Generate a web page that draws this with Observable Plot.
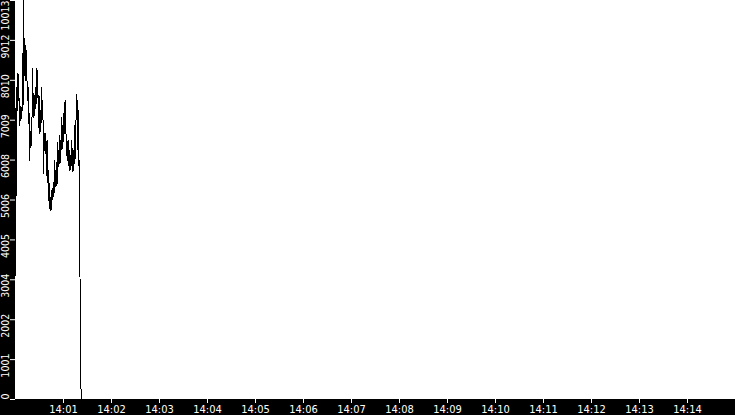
<!DOCTYPE html>
<html>
<head>
<meta charset="utf-8">
<script src="https://cdn.jsdelivr.net/npm/d3@7"></script>
<script src="https://cdn.jsdelivr.net/npm/@observablehq/plot@0.6"></script>
<style>
html, body { margin: 0; padding: 0; background: #000; }
#chart svg { display: block; }
</style>
</head>
<body>
<div id="chart"></div>
<script>
// Time window (UTC clock times)
const startTime = Date.UTC(2020, 0, 1, 14, 0, 0);
const endTime = Date.UTC(2020, 0, 1, 14, 15, 0);
const sampleStepMs = 625; // one reading every 0.625 s

// Readings from 14:00:00 onward
const values = [
  3112, 7303, 5119, 7830, 7252, 8181, 7503, 7579, 6876, 7328,
  7002, 7353, 7052, 7252, 8683, 7252, 10013, 8081, 9059, 8181,
  8884, 8005, 8758, 8005, 7503, 7880, 6926, 7252, 5998, 6751,
  6324, 6625, 6374, 7077, 8306, 7077, 7679, 7077, 7629, 7252,
  7830, 7378, 8306, 7579, 8256, 7579, 6826, 7629, 7002, 6675,
  7252, 6876, 7830, 7002, 7503, 7052, 5671, 6625, 6249, 6700,
  6173, 6500, 6249, 5621, 6500, 5421, 5747, 4994, 5421, 4793,
  5069, 4743, 5245, 4994, 5295, 5069, 5446, 5119, 5998, 5320,
  5747, 5496, 5948, 5370, 6449, 5822, 6249, 5872, 6625, 5922,
  6249, 6500, 7077, 6249, 6876, 6424, 7177, 6625, 7453, 6675,
  7503, 6675, 6123, 6500, 6249, 5998, 6500, 5872, 6249, 5747,
  6123, 5872, 6500, 5872, 6299, 5697, 6249, 5872, 6876, 5998,
  6625, 7002, 7654, 7002, 7503, 6249, 7252, 5872, 5998, 3062,
  1732, 276, 100, 0
];
const tailValue = 0; // value held until 14:15

const yMax = 10013;
const yTickValues = [0, 1001, 2002, 3004, 4005, 5006, 6008, 7009, 8010, 9012, 10013];
const yTickLabels = ["0", "1001", "2002", "3004", "4005", "5006", "6008", "7009", "8010", "9012", "10013"];
const xTickLabels = ["14:01", "14:02", "14:03", "14:04", "14:05", "14:06", "14:07",
                     "14:08", "14:09", "14:10", "14:11", "14:12", "14:13", "14:14"];

const xTickValues = xTickLabels.map(s => {
  const [h, m] = s.split(":").map(Number);
  return new Date(Date.UTC(2020, 0, 1, h, m, 0));
});

const series = values.map((v, i) => ({ time: new Date(startTime + i * sampleStepMs), value: v }));
series.push({ time: new Date(endTime), value: tailValue });

const yLabelRows = yTickValues.map((v, i) => ({ v, label: yTickLabels[i] }));
const innerLabels = yLabelRows.filter(d => d.v !== 0 && d.v !== yMax);
const topLabel = yLabelRows.filter(d => d.v === yMax);
const bottomLabel = yLabelRows.filter(d => d.v === 0);

const labelStyle = { y: "v", text: "label", frameAnchor: "left", rotate: -90, lineAnchor: "middle", dx: -10, fill: "#fff", fontSize: 10.5 };

const plot = Plot.plot({
  width: 735,
  height: 415,
  marginLeft: 15,
  marginRight: 0,
  marginTop: 0,
  marginBottom: 16,
  style: {
    background: "#000",
    fontFamily: "'DejaVu Sans Condensed', 'DejaVu Sans', sans-serif",
    fontSize: "11px",
    overflow: "visible"
  },
  x: { type: "utc", domain: [new Date(startTime), new Date(endTime)], label: null },
  y: { domain: [0, yMax], label: null },
  marks: [
    Plot.frame({ fill: "#fff", stroke: "none", dx: -0.5, dy: -0.5 }),
    Plot.line(series, { x: "time", y: "value", stroke: "#000", strokeWidth: 1, shapeRendering: "crispEdges" }),
    Plot.axisX(xTickValues, {
      tickSize: 4, tickPadding: 2, stroke: "#fff", fill: "#fff",
      tickFormat: d3.utcFormat("%H:%M"), label: null
    }),
    Plot.axisY(yTickValues, {
      tickSize: 5, stroke: "#fff", fill: "#fff", tickFormat: () => "", label: null
    }),
    Plot.text(innerLabels, { ...labelStyle, textAnchor: "middle", dy: 6 }),
    Plot.text(topLabel, { ...labelStyle, textAnchor: "end", dy: 0 }),
    Plot.text(bottomLabel, { ...labelStyle, textAnchor: "start", dy: 0 })
  ]
});

document.getElementById("chart").appendChild(plot);
</script>
</body>
</html>
